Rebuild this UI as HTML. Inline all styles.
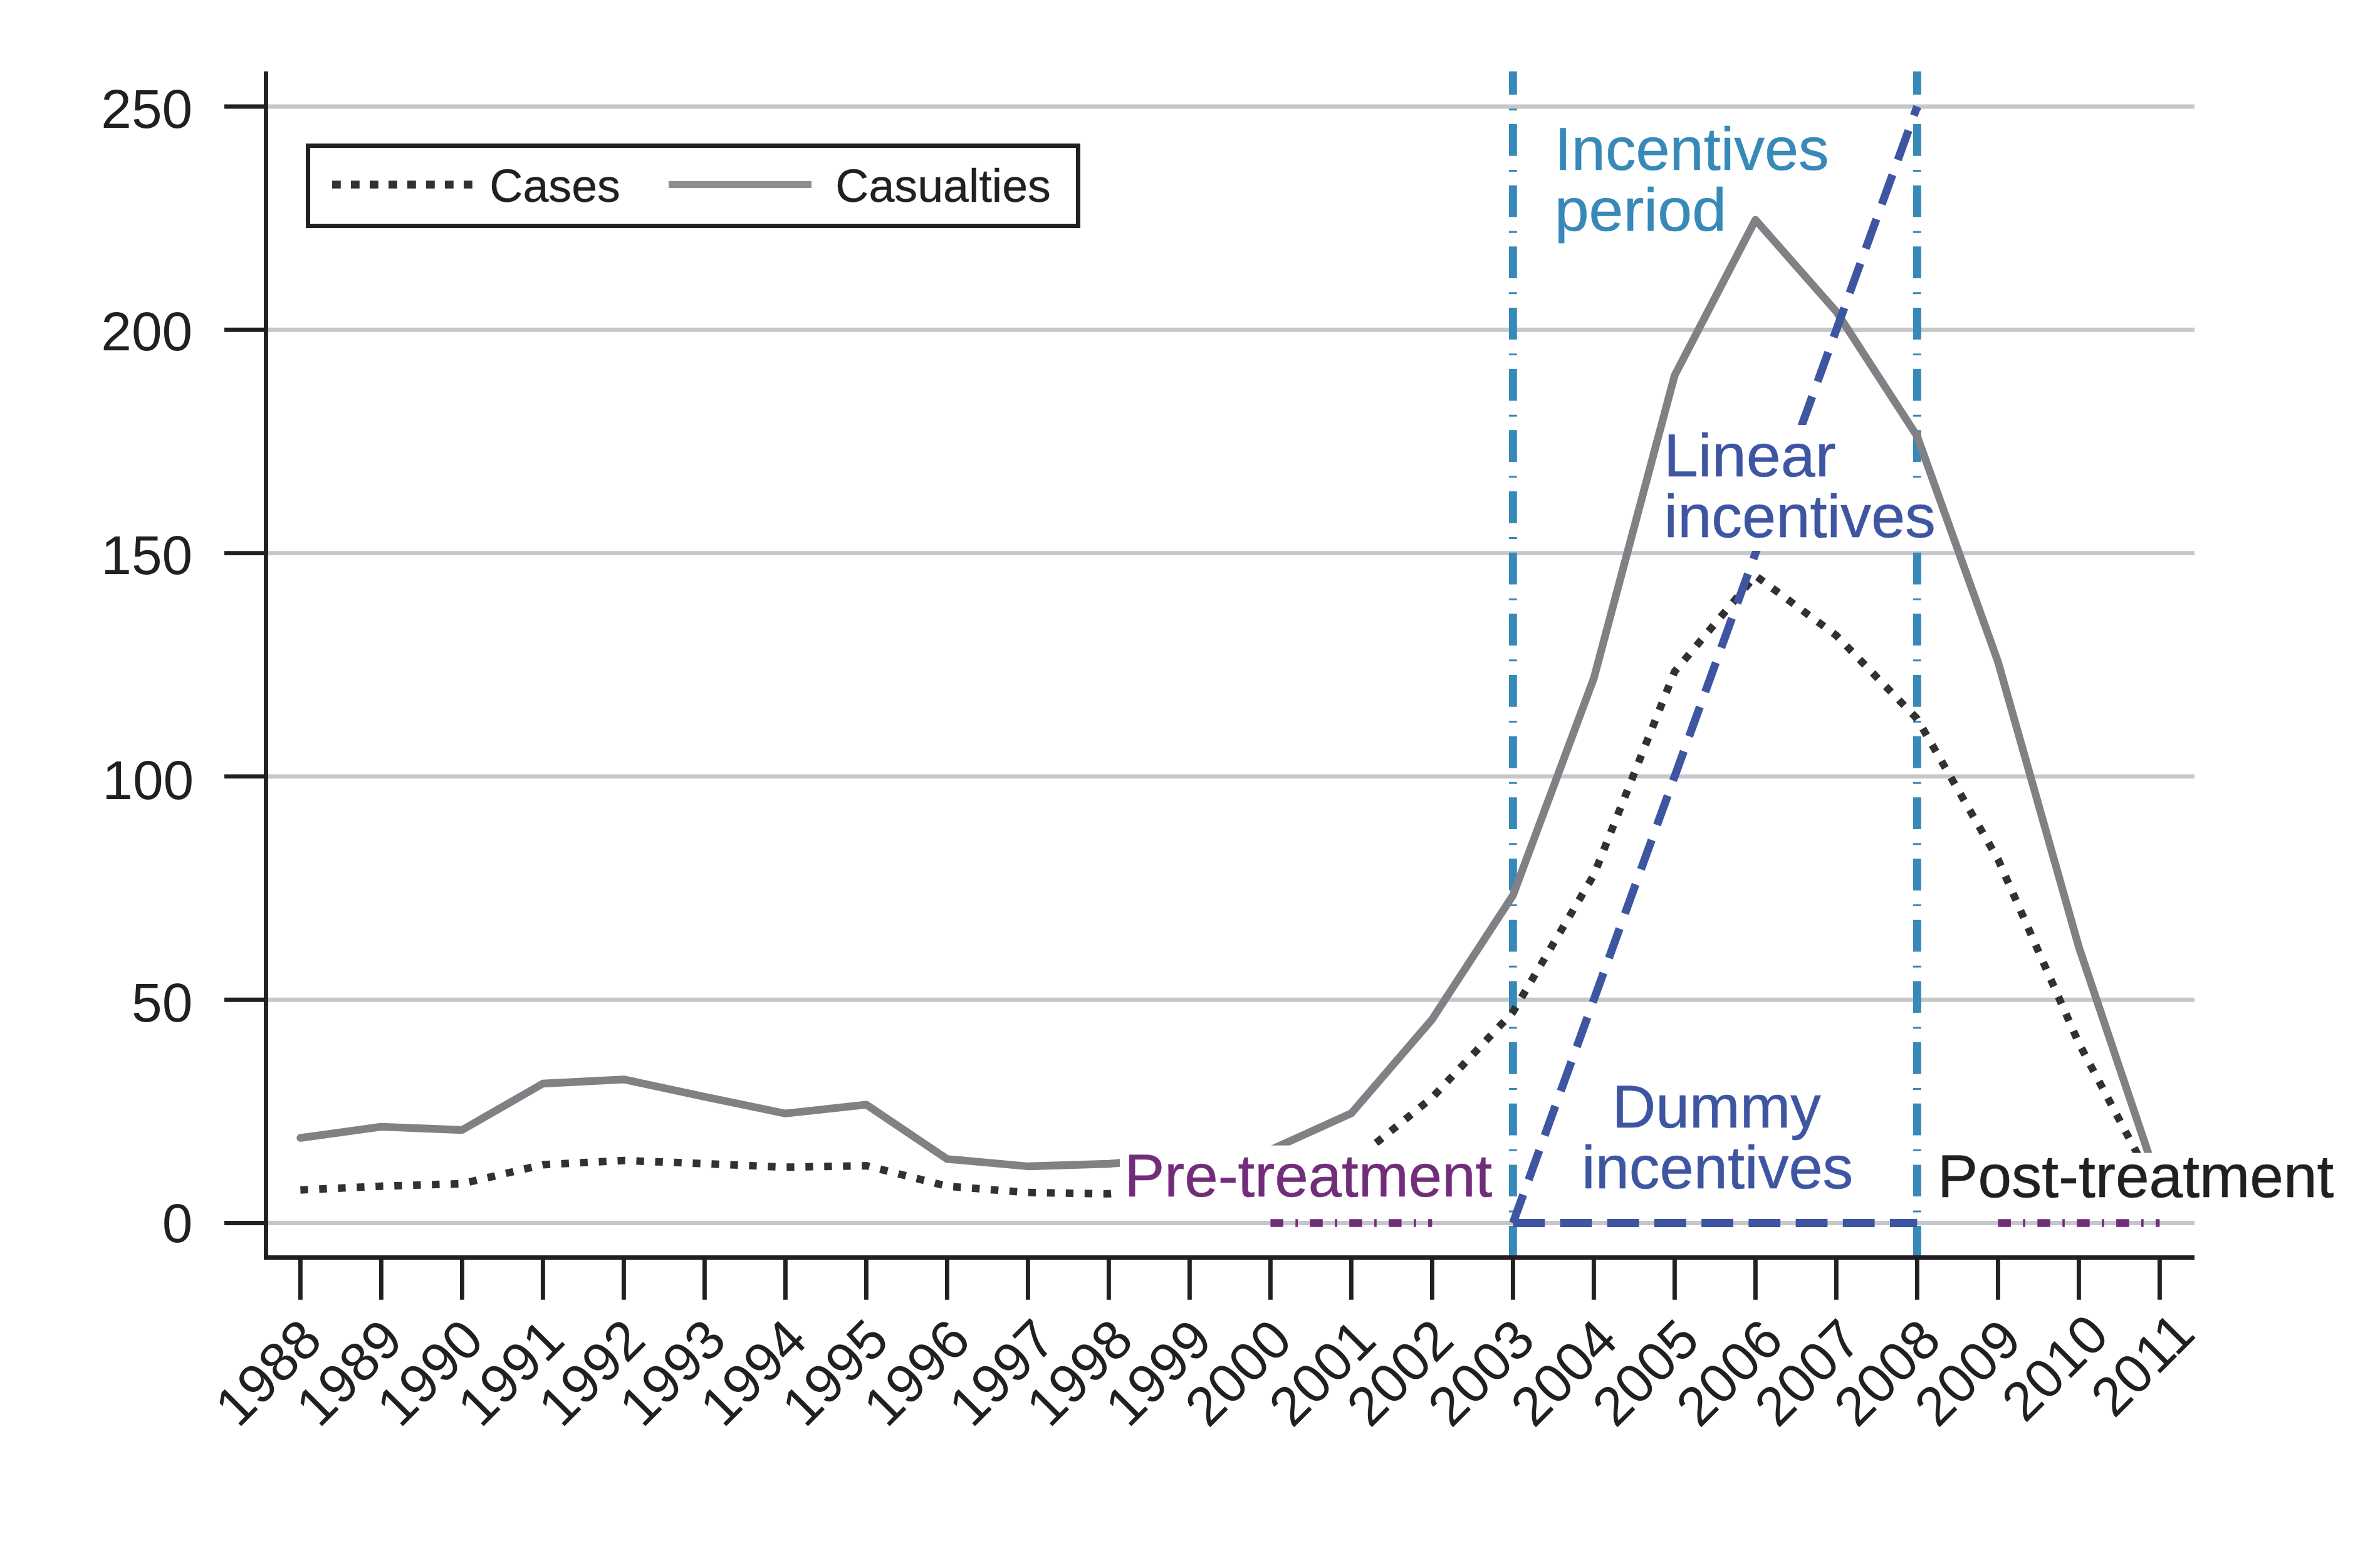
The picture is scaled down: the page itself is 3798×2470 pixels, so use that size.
<!DOCTYPE html>
<html><head><meta charset="utf-8"><style>html,body{margin:0;padding:0;background:#fff;overflow:hidden}svg{display:block}text{font-family:"Liberation Sans",sans-serif}</style></head><body>
<svg width="3798" height="2470" viewBox="0 0 3798 2470">
<rect width="3798" height="2470" fill="#fff"/>
<line x1="428" y1="1951.5" x2="3502" y2="1951.5" stroke="#c6c7c9" stroke-width="6.9"/>
<line x1="428" y1="1595.2" x2="3502" y2="1595.2" stroke="#c6c7c9" stroke-width="6.9"/>
<line x1="428" y1="1238.9" x2="3502" y2="1238.9" stroke="#c6c7c9" stroke-width="6.9"/>
<line x1="428" y1="882.6" x2="3502" y2="882.6" stroke="#c6c7c9" stroke-width="6.9"/>
<line x1="428" y1="526.3" x2="3502" y2="526.3" stroke="#c6c7c9" stroke-width="6.9"/>
<line x1="428" y1="170" x2="3502" y2="170" stroke="#c6c7c9" stroke-width="6.9"/>
<line x1="424.5" y1="114" x2="424.5" y2="2006.8" stroke="#231f20" stroke-width="6.9"/>
<line x1="421" y1="2006.5" x2="3502" y2="2006.5" stroke="#231f20" stroke-width="6.9"/>
<line x1="358" y1="1951.5" x2="424.5" y2="1951.5" stroke="#231f20" stroke-width="6.9"/>
<line x1="358" y1="1595.2" x2="424.5" y2="1595.2" stroke="#231f20" stroke-width="6.9"/>
<line x1="358" y1="1238.9" x2="424.5" y2="1238.9" stroke="#231f20" stroke-width="6.9"/>
<line x1="358" y1="882.6" x2="424.5" y2="882.6" stroke="#231f20" stroke-width="6.9"/>
<line x1="358" y1="526.3" x2="424.5" y2="526.3" stroke="#231f20" stroke-width="6.9"/>
<line x1="358" y1="170" x2="424.5" y2="170" stroke="#231f20" stroke-width="6.9"/>
<line x1="479.4" y1="2006.5" x2="479.4" y2="2073.8" stroke="#231f20" stroke-width="6.9"/>
<line x1="608.4" y1="2006.5" x2="608.4" y2="2073.8" stroke="#231f20" stroke-width="6.9"/>
<line x1="737.4" y1="2006.5" x2="737.4" y2="2073.8" stroke="#231f20" stroke-width="6.9"/>
<line x1="866.4" y1="2006.5" x2="866.4" y2="2073.8" stroke="#231f20" stroke-width="6.9"/>
<line x1="995.4" y1="2006.5" x2="995.4" y2="2073.8" stroke="#231f20" stroke-width="6.9"/>
<line x1="1124.4" y1="2006.5" x2="1124.4" y2="2073.8" stroke="#231f20" stroke-width="6.9"/>
<line x1="1253.4" y1="2006.5" x2="1253.4" y2="2073.8" stroke="#231f20" stroke-width="6.9"/>
<line x1="1382.4" y1="2006.5" x2="1382.4" y2="2073.8" stroke="#231f20" stroke-width="6.9"/>
<line x1="1511.4" y1="2006.5" x2="1511.4" y2="2073.8" stroke="#231f20" stroke-width="6.9"/>
<line x1="1640.4" y1="2006.5" x2="1640.4" y2="2073.8" stroke="#231f20" stroke-width="6.9"/>
<line x1="1769.4" y1="2006.5" x2="1769.4" y2="2073.8" stroke="#231f20" stroke-width="6.9"/>
<line x1="1898.4" y1="2006.5" x2="1898.4" y2="2073.8" stroke="#231f20" stroke-width="6.9"/>
<line x1="2027.4" y1="2006.5" x2="2027.4" y2="2073.8" stroke="#231f20" stroke-width="6.9"/>
<line x1="2156.4" y1="2006.5" x2="2156.4" y2="2073.8" stroke="#231f20" stroke-width="6.9"/>
<line x1="2285.4" y1="2006.5" x2="2285.4" y2="2073.8" stroke="#231f20" stroke-width="6.9"/>
<line x1="2414.4" y1="2006.5" x2="2414.4" y2="2073.8" stroke="#231f20" stroke-width="6.9"/>
<line x1="2543.4" y1="2006.5" x2="2543.4" y2="2073.8" stroke="#231f20" stroke-width="6.9"/>
<line x1="2672.4" y1="2006.5" x2="2672.4" y2="2073.8" stroke="#231f20" stroke-width="6.9"/>
<line x1="2801.4" y1="2006.5" x2="2801.4" y2="2073.8" stroke="#231f20" stroke-width="6.9"/>
<line x1="2930.4" y1="2006.5" x2="2930.4" y2="2073.8" stroke="#231f20" stroke-width="6.9"/>
<line x1="3059.4" y1="2006.5" x2="3059.4" y2="2073.8" stroke="#231f20" stroke-width="6.9"/>
<line x1="3188.4" y1="2006.5" x2="3188.4" y2="2073.8" stroke="#231f20" stroke-width="6.9"/>
<line x1="3317.4" y1="2006.5" x2="3317.4" y2="2073.8" stroke="#231f20" stroke-width="6.9"/>
<line x1="3446.4" y1="2006.5" x2="3446.4" y2="2073.8" stroke="#231f20" stroke-width="6.9"/>
<text x="307.3" y="1981.5" font-size="87.5" fill="#231f20" text-anchor="end">0</text>
<text x="307.3" y="1629.5" font-size="87.5" fill="#231f20" text-anchor="end">50</text>
<text x="309.3" y="1274.6" font-size="87.5" fill="#231f20" text-anchor="end">100</text>
<text x="307.3" y="915.5" font-size="87.5" fill="#231f20" text-anchor="end">150</text>
<text x="307.3" y="559.2" font-size="87.5" fill="#231f20" text-anchor="end">200</text>
<text x="307.3" y="203.5" font-size="87.5" fill="#231f20" text-anchor="end">250</text>
<text x="517.9" y="2142.5" font-size="87.5" fill="#231f20" text-anchor="end" transform="rotate(-45 517.9 2142.5)">1988</text>
<text x="646.9" y="2142.5" font-size="87.5" fill="#231f20" text-anchor="end" transform="rotate(-45 646.9 2142.5)">1989</text>
<text x="775.9" y="2142.5" font-size="87.5" fill="#231f20" text-anchor="end" transform="rotate(-45 775.9 2142.5)">1990</text>
<text x="904.9" y="2142.5" font-size="87.5" fill="#231f20" text-anchor="end" transform="rotate(-45 904.9 2142.5)">1991</text>
<text x="1033.9" y="2142.5" font-size="87.5" fill="#231f20" text-anchor="end" transform="rotate(-45 1033.9 2142.5)">1992</text>
<text x="1162.9" y="2142.5" font-size="87.5" fill="#231f20" text-anchor="end" transform="rotate(-45 1162.9 2142.5)">1993</text>
<text x="1291.9" y="2142.5" font-size="87.5" fill="#231f20" text-anchor="end" transform="rotate(-45 1291.9 2142.5)">1994</text>
<text x="1422.3" y="2142.5" font-size="87.5" fill="#231f20" text-anchor="end" transform="rotate(-45 1422.3 2142.5)">1995</text>
<text x="1552.6" y="2142.5" font-size="87.5" fill="#231f20" text-anchor="end" transform="rotate(-45 1552.6 2142.5)">1996</text>
<text x="1688.9" y="2142.5" font-size="87.5" fill="#231f20" text-anchor="end" transform="rotate(-45 1688.9 2142.5)">1997</text>
<text x="1812.4" y="2142.5" font-size="87.5" fill="#231f20" text-anchor="end" transform="rotate(-45 1812.4 2142.5)">1998</text>
<text x="1938.3" y="2142.5" font-size="87.5" fill="#231f20" text-anchor="end" transform="rotate(-45 1938.3 2142.5)">1999</text>
<text x="2065.9" y="2142.5" font-size="87.5" fill="#231f20" text-anchor="end" transform="rotate(-45 2065.9 2142.5)">2000</text>
<text x="2199.9" y="2142.5" font-size="87.5" fill="#231f20" text-anchor="end" transform="rotate(-45 2199.9 2142.5)">2001</text>
<text x="2323.9" y="2142.5" font-size="87.5" fill="#231f20" text-anchor="end" transform="rotate(-45 2323.9 2142.5)">2002</text>
<text x="2453.5" y="2142.5" font-size="87.5" fill="#231f20" text-anchor="end" transform="rotate(-45 2453.5 2142.5)">2003</text>
<text x="2585.7" y="2142.5" font-size="87.5" fill="#231f20" text-anchor="end" transform="rotate(-45 2585.7 2142.5)">2004</text>
<text x="2716" y="2142.5" font-size="87.5" fill="#231f20" text-anchor="end" transform="rotate(-45 2716 2142.5)">2005</text>
<text x="2849.6" y="2142.5" font-size="87.5" fill="#231f20" text-anchor="end" transform="rotate(-45 2849.6 2142.5)">2006</text>
<text x="2974.6" y="2142.5" font-size="87.5" fill="#231f20" text-anchor="end" transform="rotate(-45 2974.6 2142.5)">2007</text>
<text x="3101.4" y="2142.5" font-size="87.5" fill="#231f20" text-anchor="end" transform="rotate(-45 3101.4 2142.5)">2008</text>
<text x="3229.9" y="2142.5" font-size="87.5" fill="#231f20" text-anchor="end" transform="rotate(-45 3229.9 2142.5)">2009</text>
<text x="3369.2" y="2134.7" font-size="87.5" fill="#231f20" text-anchor="end" transform="rotate(-45 3369.2 2134.7)">2010</text>
<text x="3506.7" y="2131.8" font-size="87.5" fill="#231f20" text-anchor="end" transform="rotate(-45 3506.7 2131.8)">2011</text>
<line x1="2414.4" y1="114" x2="2414.4" y2="2003" stroke="#3789b9" stroke-width="12.8" stroke-dasharray="50.7 22.3 3 21.67" stroke-dashoffset="13.67"/>
<line x1="3059.4" y1="114" x2="3059.4" y2="2003" stroke="#3789b9" stroke-width="12.8" stroke-dasharray="50.7 22.3 3 21.67" stroke-dashoffset="13.67"/>
<polyline points="479.4,1815.7 608.4,1797.9 737.4,1803 866.4,1729 995.4,1722.3 1124.4,1750 1253.4,1776.7 1382.4,1762.6 1511.4,1849.3 1640.4,1861 1769.4,1857 1898.4,1846 2027.4,1834.9 2156.4,1776.4 2285.4,1626.5 2414.4,1428.6 2543.4,1082.3 2672.4,599 2801.4,350.7 2930.4,497.2 3059.4,696 3188.4,1056 3317.4,1511 3446.4,1894" fill="none" stroke="#808185" stroke-width="12.3" stroke-linejoin="round" stroke-linecap="round"/>
<polyline points="479.4,1898.7 608.4,1892.7 737.4,1888.7 866.4,1858.4 995.4,1851.7 1124.4,1856.7 1253.4,1862.4 1382.4,1860 1511.4,1892.7 1640.4,1902.8 1769.4,1904.8 1898.4,1895 2027.4,1880 2156.4,1855.8 2285.4,1751.3 2414.4,1614.7 2543.4,1396.2 2672.4,1071.5 2801.4,918.5 2930.4,1014 3059.4,1147 3188.4,1371 3317.4,1664.5 3446.4,1908.5" fill="none" stroke="#323132" stroke-width="12" stroke-dasharray="12.3 17.7" stroke-linejoin="miter"/>
<line x1="3059.4" y1="170" x2="2414.4" y2="1951.5" stroke="#3e55a2" stroke-width="12.8" stroke-dasharray="49.9 25.35" stroke-dashoffset="34.65"/>
<line x1="2414.4" y1="1951.5" x2="3059.4" y2="1951.5" stroke="#3e55a2" stroke-width="12.8" stroke-dasharray="50.8 24.4"/>
<rect x="2658" y="678" width="284" height="95" fill="#fff"/>
<rect x="2658" y="768" width="417" height="111" fill="#fff"/>
<rect x="1787" y="1827.7" width="609" height="102" fill="#fff"/>
<rect x="3085" y="1839.6" width="660" height="90" fill="#fff"/>
<line x1="2027.4" y1="1951.5" x2="2285.4" y2="1951.5" stroke="#722d7a" stroke-width="12.6" stroke-dasharray="20.5 19.4 3.7 19.3"/>
<line x1="3188.4" y1="1951.5" x2="3446.4" y2="1951.5" stroke="#722d7a" stroke-width="12.6" stroke-dasharray="20.5 19.4 3.7 19.3"/>
<text x="2480.8" y="270.7" font-size="97" fill="#3789b9" stroke="#3789b9" stroke-width="0.6" textLength="437.9" lengthAdjust="spacingAndGlyphs">Incentives</text>
<text x="2480.7" y="368.3" font-size="97" fill="#3789b9" stroke="#3789b9" stroke-width="0.6" textLength="274.4" lengthAdjust="spacingAndGlyphs">period</text>
<text x="2654.9" y="760.3" font-size="97" fill="#3e55a2" stroke="#3e55a2" stroke-width="0.6" textLength="274.8" lengthAdjust="spacingAndGlyphs">Linear</text>
<text x="2655.5" y="857.3" font-size="97" fill="#3e55a2" stroke="#3e55a2" stroke-width="0.6" textLength="433.3" lengthAdjust="spacingAndGlyphs">incentives</text>
<text x="2572.5" y="1798.7" font-size="97" fill="#3e55a2" stroke="#3e55a2" stroke-width="0.6" textLength="333.1" lengthAdjust="spacingAndGlyphs">Dummy</text>
<text x="2524" y="1895.8" font-size="97" fill="#3e55a2" stroke="#3e55a2" stroke-width="0.6" textLength="433.3" lengthAdjust="spacingAndGlyphs">incentives</text>
<text x="1794.2" y="1908.8" font-size="97" fill="#722d7a" stroke="#722d7a" stroke-width="0.6" textLength="587.1" lengthAdjust="spacingAndGlyphs">Pre-treatment</text>
<text x="3092.1" y="1909.9" font-size="97" fill="#231f20" stroke="#231f20" stroke-width="0.6" textLength="632.2" lengthAdjust="spacingAndGlyphs">Post-treatment</text>
<rect x="491.5" y="232.5" width="1229" height="128" fill="#fff" stroke="#231f20" stroke-width="7"/>
<line x1="530" y1="294.5" x2="754" y2="294.5" stroke="#323132" stroke-width="12.6" stroke-dasharray="13.8 16.2"/>
<line x1="1067" y1="294.5" x2="1295" y2="294.5" stroke="#8e8f93" stroke-width="10.8"/>
<text x="781.3" y="321.8" font-size="73.6" fill="#231f20" stroke="#231f20" stroke-width="0.4">Cases</text>
<text x="1333.3" y="322" font-size="73.6" fill="#231f20" stroke="#231f20" stroke-width="0.4">Casualties</text>
</svg></body></html>
